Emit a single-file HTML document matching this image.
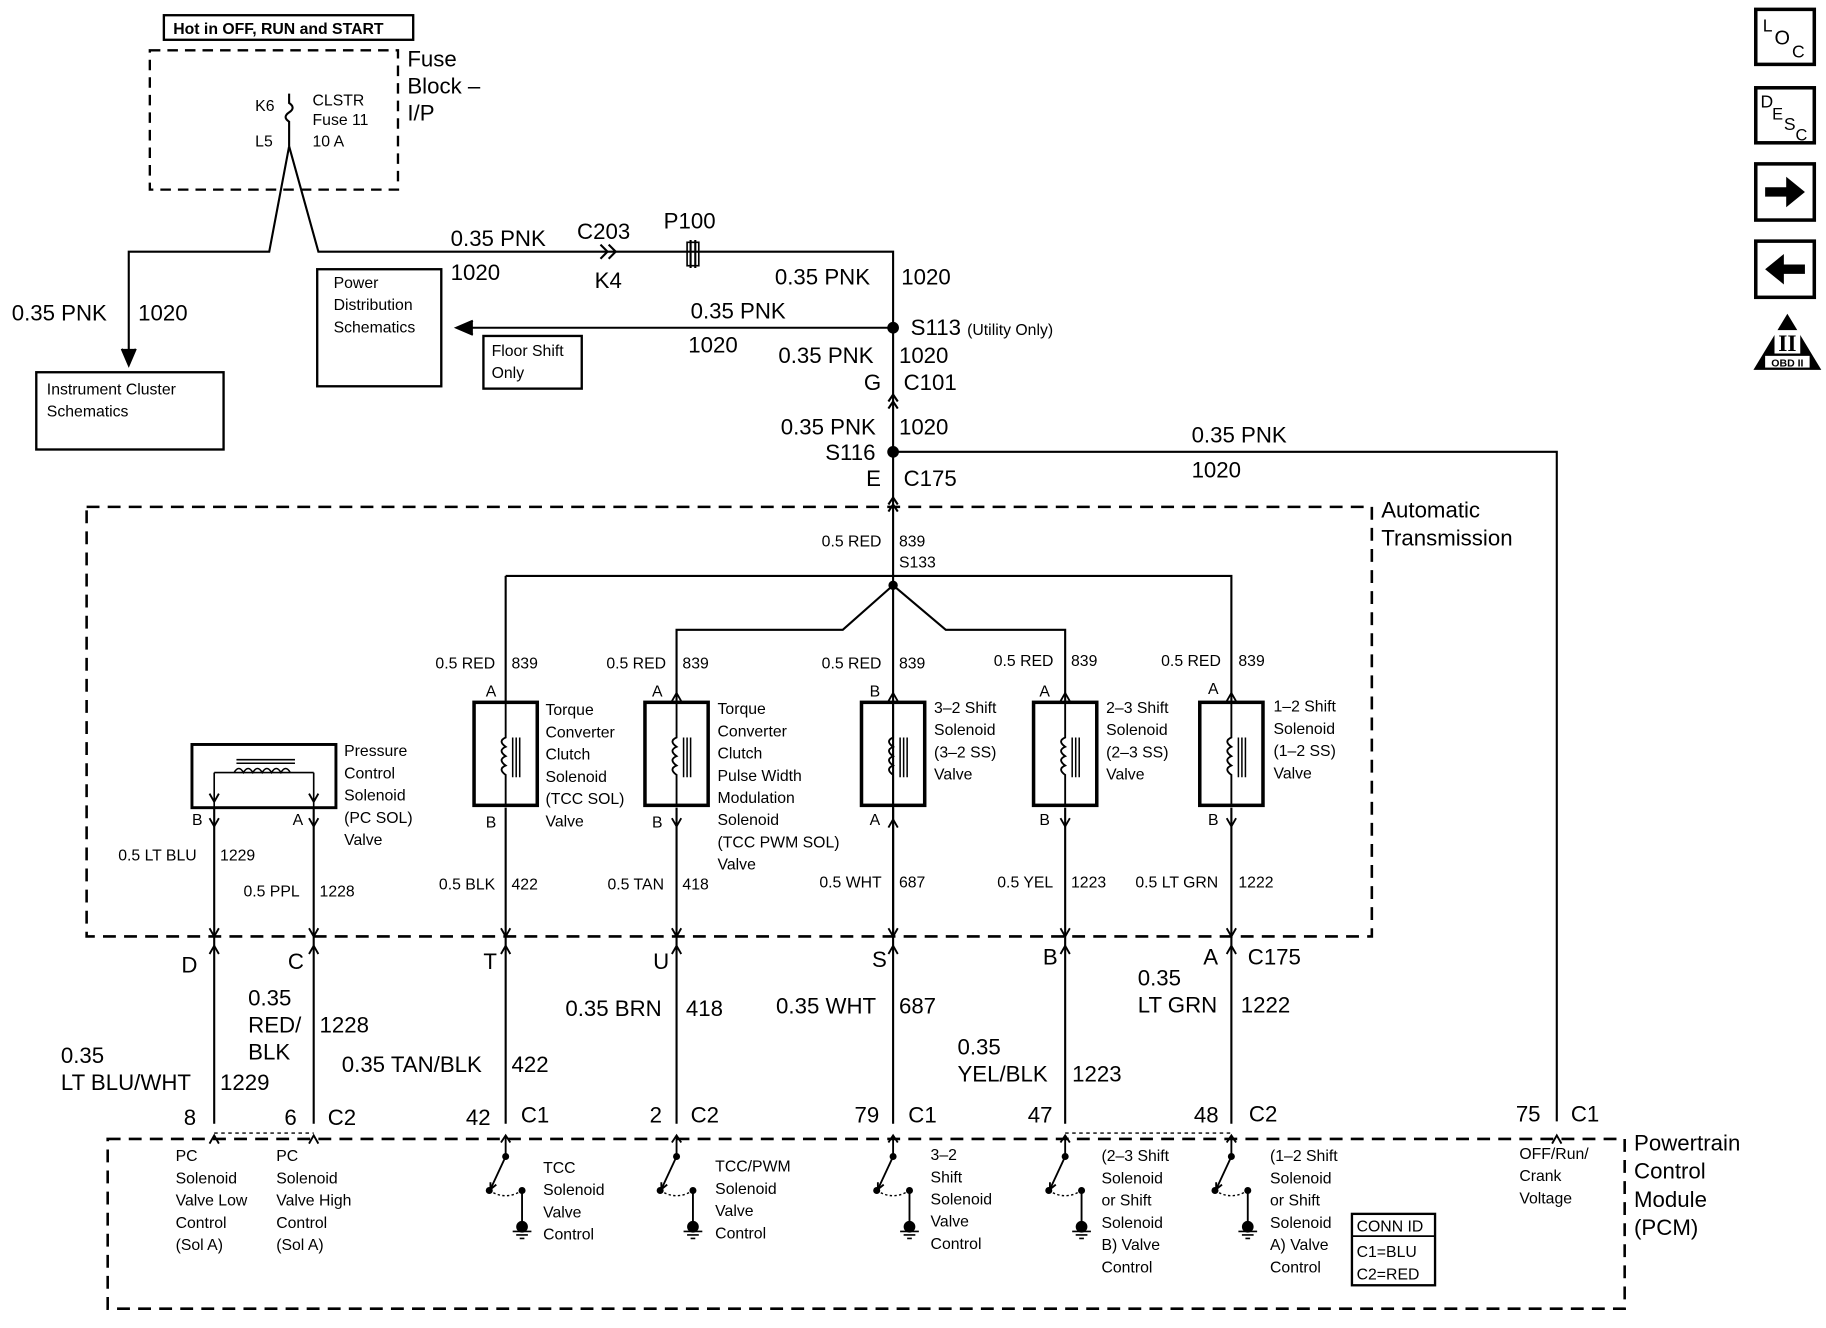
<!DOCTYPE html>
<html><head><meta charset="utf-8"><style>
html,body{margin:0;padding:0;background:#fff}
svg{display:block}
text{font-family:"Liberation Sans",Arial,sans-serif;fill:#000}
.b{font-size:19px}
.s{font-size:14px}
.t{font-size:13.5px}
</style></head><body>
<svg width="1826" height="1328" viewBox="0 0 1560 1134.5" preserveAspectRatio="none" xmlns="http://www.w3.org/2000/svg">
<defs>
<g id="sol">
<rect x="-27" y="0" width="54" height="88" fill="none" stroke="#000" stroke-width="3"/>
<path d="M0,0 V30 q-7,3 0,8 q-7,3 0,8 q-7,3 0,8 q-7,3 0,8 V88" fill="none" stroke="#000" stroke-width="1.6"/>
<path d="M6,30 V64 M9,30 V64 M12,30 V64" stroke="#000" stroke-width="1.3"/>
</g>
<g id="sw">
<path d="M0,0 V18" stroke="#000" stroke-width="1.6"/>
<path d="M-4,6 L0,0 L4,6" fill="none" stroke="#000" stroke-width="1.6"/>
<circle cx="0" cy="18" r="3"/>
<path d="M0,18 L-13,46" stroke="#000" stroke-width="1.6"/>
<path d="M-13,40 L-13,46 L-8,42" fill="none" stroke="#000" stroke-width="1.6"/>
<circle cx="-14" cy="47" r="3"/>
<path d="M-14,47 Q0,56 14,47" fill="none" stroke="#000" stroke-width="1.2" stroke-dasharray="2,2"/>
<circle cx="14" cy="47" r="3"/>
<path d="M14,47 V75" stroke="#000" stroke-width="1.6"/>
<circle cx="14" cy="78" r="5"/>
<path d="M6,82 H22 M9,85 H19 M12,88 H16" stroke="#000" stroke-width="1.4"/>
</g>
<path id="dn" d="M-4,-7 L0,0 L4,-7" fill="none" stroke="#000" stroke-width="1.6"/>
<path id="up" d="M-4,7 L0,0 L4,7" fill="none" stroke="#000" stroke-width="1.6"/>
</defs>
<g stroke="#000" fill="none" stroke-width="1.8">
<!-- fuse block -->
<rect x="140" y="13" width="213" height="21" stroke-width="2"/>
<rect x="128" y="43" width="212" height="119" stroke-dasharray="9,6" stroke-width="2"/>
<path d="M247,80 V88 q6,4 0,8 q-6,4 0,8 V125"/>
<path d="M247,125 L230,215 H110 V305"/>
<path d="M247,125 L272,215 H763 V800"/>
<path d="M104,298 L110,312 L116,298" fill="#000"/>
<path d="M513,209 L519,215 L513,221 M520,209 L526,215 L520,221"/>
<rect x="587" y="207" width="10" height="20" stroke-width="1.4"/>
<path d="M590,205 V229 M594,205 V229"/>
<path d="M763,280 H392"/>
<path d="M404,274 L390,280 L404,286" fill="#000"/>
<rect x="271" y="230" width="106" height="100" stroke-width="2"/>
<rect x="413" y="287" width="84" height="45" stroke-width="2"/>
<rect x="31" y="318" width="160" height="66" stroke-width="2"/>
<path d="M759,343 L763,337 L767,343 M759,349 L763,343 L767,349"/>
<path d="M763,386 H1330 V958"/>
<path d="M759,431 L763,425 L767,431 M759,437 L763,431 L767,437"/>
<!-- auto trans -->
<rect x="74" y="433" width="1098" height="367" stroke-dasharray="11,7" stroke-width="2.2"/>
<path d="M432,492 H1052 V600"/>
<path d="M432,492 V600"/>
<path d="M763,500 L720,538 H578 V600"/>
<path d="M763,500 L808,538 H910 V600"/>
<path d="M432,690 V960 M578,690 V960 M763,690 V960 M910,690 V960 M1052,690 V960"/>
<rect x="164" y="636" width="123" height="54" stroke-width="2.5"/>
<path d="M183,660 V690 M268,660 V690 M183,660 H268" stroke-width="1.4"/>
<path d="M200,660 q4,-7 8,0 q4,-7 8,0 q4,-7 8,0 q4,-7 8,0 q4,-7 8,0 q4,-7 8,0 M202,652 H252 M202,649 H252" stroke-width="1.3"/>
<path d="M183,690 V960 M268,690 V960"/>
<path d="M183,968 H268 M910,968 H1052" stroke-dasharray="3,3" stroke-width="1.2"/>
<!-- PCM -->
<rect x="92" y="973" width="1296" height="145" stroke-dasharray="11,7" stroke-width="2.2"/>
<rect x="1155" y="1037" width="71" height="61" stroke-width="2"/>
<path d="M1155,1056 H1226" stroke-width="1.5"/>
<!-- icons -->
<rect x="1500" y="8" width="50" height="47" stroke-width="3"/>
<rect x="1500" y="75" width="50" height="47" stroke-width="3"/>
<rect x="1500" y="140" width="50" height="48" stroke-width="3"/>
<rect x="1500" y="206" width="50" height="48" stroke-width="3"/>
</g>
<path d="M1508,160 H1526 V151 L1542,164 L1526,177 V168 H1508Z"/>
<path d="M1542,226 H1524 V217 L1508,230 L1524,243 V234 H1542Z"/>
<path d="M1527,268 L1556,316 H1498Z"/>
<rect x="1516" y="282" width="22" height="20" fill="#fff"/>
<text x="1527" y="300" text-anchor="middle" style="font-family:'Liberation Serif';font-size:20px;font-weight:bold">II</text>
<rect x="1508" y="304" width="38" height="10" fill="#fff"/>
<text x="1527" y="313" text-anchor="middle" style="font-size:9px;font-weight:bold">OBD II</text>
<text x="1506" y="27" style="font-size:15px">L</text><text x="1516" y="38" style="font-size:17px">O</text><text x="1531" y="49" style="font-size:15px">C</text>
<text x="1504" y="92" style="font-size:15px">D</text><text x="1514" y="102" style="font-size:14px">E</text><text x="1524" y="111" style="font-size:15px">S</text><text x="1534" y="120" style="font-size:14px">C</text>
<!-- solenoids -->
<use href="#sol" x="432" y="600"/>
<use href="#sol" x="578" y="600"/>
<use href="#sol" x="763" y="600"/>
<use href="#sol" x="910" y="600"/>
<use href="#sol" x="1052" y="600"/>
<use href="#up" x="578" y="592"/><use href="#up" x="763" y="592"/><use href="#up" x="910" y="592"/><use href="#up" x="1052" y="592"/>
<use href="#dn" x="578" y="706"/><use href="#up" x="763" y="700"/><use href="#dn" x="910" y="706"/><use href="#dn" x="1052" y="706"/>
<use href="#dn" x="183" y="706"/><use href="#dn" x="268" y="706"/>
<use href="#dn" x="183" y="685"/><use href="#dn" x="268" y="685"/>
<use href="#dn" x="183" y="800"/><use href="#dn" x="268" y="800"/><use href="#dn" x="432" y="800"/><use href="#dn" x="578" y="800"/><use href="#dn" x="763" y="800"/><use href="#dn" x="910" y="800"/><use href="#dn" x="1052" y="800"/>
<use href="#up" x="183" y="808"/><use href="#up" x="268" y="808"/><use href="#up" x="432" y="808"/><use href="#up" x="578" y="808"/><use href="#up" x="763" y="808"/><use href="#up" x="910" y="808"/><use href="#up" x="1052" y="808"/>
<use href="#sw" x="432" y="970"/><use href="#sw" x="578" y="970"/><use href="#sw" x="763" y="970"/><use href="#sw" x="910" y="970"/><use href="#sw" x="1052" y="970"/>
<use href="#up" x="183" y="970"/><use href="#up" x="268" y="970"/><use href="#up" x="1330" y="970"/>
<circle cx="763" cy="280" r="5"/><circle cx="763" cy="386" r="5"/><circle cx="763" cy="500" r="4"/>
<!-- text -->
<text x="148" y="29" class="t" style="font-weight:bold">Hot in OFF, RUN and START</text>
<text x="348" y="57" class="b">Fuse</text><text x="348" y="80" class="b">Block –</text><text x="348" y="103" class="b">I/P</text>
<text x="218" y="95" class="t">K6</text><text x="218" y="125" class="t">L5</text>
<text x="267" y="90" class="t">CLSTR</text><text x="267" y="107" class="t">Fuse 11</text><text x="267" y="125" class="t">10 A</text>
<text x="385" y="210" class="b">0.35 PNK</text><text x="385" y="239" class="b">1020</text>
<text x="493" y="204" class="b">C203</text><text x="508" y="246" class="b">K4</text><text x="567" y="195" class="b">P100</text>
<text x="662" y="243" class="b">0.35 PNK</text><text x="770" y="243" class="b">1020</text>
<text x="590" y="272" class="b">0.35 PNK</text><text x="588" y="301" class="b">1020</text>
<text x="778" y="286" class="b">S113 <tspan class="t">(Utility Only)</tspan></text>
<text x="285" y="246" class="t">Power</text><text x="285" y="265" class="t">Distribution</text><text x="285" y="284" class="t">Schematics</text>
<text x="420" y="304" class="t">Floor Shift</text><text x="420" y="323" class="t">Only</text>
<text x="40" y="337" class="t">Instrument Cluster</text><text x="40" y="356" class="t">Schematics</text>
<text x="10" y="274" class="b">0.35 PNK</text><text x="118" y="274" class="b">1020</text>
<text x="665" y="310" class="b">0.35 PNK</text><text x="768" y="310" class="b">1020</text>
<text x="738" y="333" class="b">G</text><text x="772" y="333" class="b">C101</text>
<text x="667" y="371" class="b">0.35 PNK</text><text x="768" y="371" class="b">1020</text>
<text x="705" y="393" class="b">S116</text>
<text x="1018" y="378" class="b">0.35 PNK</text><text x="1018" y="408" class="b">1020</text>
<text x="740" y="415" class="b">E</text><text x="772" y="415" class="b">C175</text>
<text x="1180" y="442" class="b">Automatic</text><text x="1180" y="466" class="b">Transmission</text>
<text x="702" y="467" class="t">0.5 RED</text><text x="768" y="467" class="t">839</text><text x="768" y="485" class="t">S133</text>
<g class="t">
<text x="372" y="571">0.5 RED</text><text x="437" y="571">839</text>
<text x="518" y="571">0.5 RED</text><text x="583" y="571">839</text>
<text x="702" y="571">0.5 RED</text><text x="768" y="571">839</text>
<text x="849" y="569">0.5 RED</text><text x="915" y="569">839</text>
<text x="992" y="569">0.5 RED</text><text x="1058" y="569">839</text>
<text x="415" y="595">A</text><text x="557" y="595">A</text><text x="743" y="595">B</text><text x="888" y="595">A</text><text x="1032" y="593">A</text>
<text x="415" y="707">B</text><text x="557" y="707">B</text><text x="743" y="705">A</text><text x="888" y="705">B</text><text x="1032" y="705">B</text>
<text x="164" y="705">B</text><text x="250" y="705">A</text>
<text x="466" y="611">Torque</text><text x="466" y="630">Converter</text><text x="466" y="649">Clutch</text><text x="466" y="668">Solenoid</text><text x="466" y="687">(TCC SOL)</text><text x="466" y="706">Valve</text>
<text x="613" y="610">Torque</text><text x="613" y="629">Converter</text><text x="613" y="648">Clutch</text><text x="613" y="667">Pulse Width</text><text x="613" y="686">Modulation</text><text x="613" y="705">Solenoid</text><text x="613" y="724">(TCC PWM SOL)</text><text x="613" y="743">Valve</text>
<text x="798" y="609">3–2 Shift</text><text x="798" y="628">Solenoid</text><text x="798" y="647">(3–2 SS)</text><text x="798" y="666">Valve</text>
<text x="945" y="609">2–3 Shift</text><text x="945" y="628">Solenoid</text><text x="945" y="647">(2–3 SS)</text><text x="945" y="666">Valve</text>
<text x="1088" y="608">1–2 Shift</text><text x="1088" y="627">Solenoid</text><text x="1088" y="646">(1–2 SS)</text><text x="1088" y="665">Valve</text>
<text x="294" y="646">Pressure</text><text x="294" y="665">Control</text><text x="294" y="684">Solenoid</text><text x="294" y="703">(PC SOL)</text><text x="294" y="722">Valve</text>
<text x="101" y="735">0.5 LT BLU</text><text x="188" y="735">1229</text>
<text x="208" y="766">0.5 PPL</text><text x="273" y="766">1228</text>
<text x="375" y="760">0.5 BLK</text><text x="437" y="760">422</text>
<text x="519" y="760">0.5 TAN</text><text x="583" y="760">418</text>
<text x="700" y="758">0.5 WHT</text><text x="768" y="758">687</text>
<text x="852" y="758">0.5 YEL</text><text x="915" y="758">1223</text>
<text x="970" y="758">0.5 LT GRN</text><text x="1058" y="758">1222</text>
</g>
<g class="b">
<text x="155" y="831">D</text><text x="246" y="828">C</text><text x="413" y="828">T</text><text x="558" y="828">U</text><text x="745" y="826">S</text><text x="891" y="824">B</text><text x="1028" y="824">A</text><text x="1066" y="824">C175</text>
<text x="52" y="908">0.35</text><text x="52" y="931">LT BLU/WHT</text><text x="188" y="931">1229</text>
<text x="212" y="859">0.35</text><text x="212" y="882">RED/</text><text x="212" y="905">BLK</text><text x="273" y="882">1228</text>
<text x="292" y="916">0.35 TAN/BLK</text><text x="437" y="916">422</text>
<text x="483" y="868">0.35 BRN</text><text x="586" y="868">418</text>
<text x="663" y="866">0.35 WHT</text><text x="768" y="866">687</text>
<text x="818" y="901">0.35</text><text x="818" y="924">YEL/BLK</text><text x="916" y="924">1223</text>
<text x="972" y="842">0.35</text><text x="972" y="865">LT GRN</text><text x="1060" y="865">1222</text>
<text x="157" y="961">8</text><text x="243" y="961">6</text><text x="280" y="961">C2</text>
<text x="398" y="961">42</text><text x="445" y="959">C1</text>
<text x="555" y="959">2</text><text x="590" y="959">C2</text>
<text x="730" y="959">79</text><text x="776" y="959">C1</text>
<text x="878" y="959">47</text>
<text x="1020" y="959">48</text><text x="1067" y="958">C2</text>
<text x="1295" y="958">75</text><text x="1342" y="958">C1</text>
<text x="1396" y="983">Powertrain</text><text x="1396" y="1007">Control</text><text x="1396" y="1031">Module</text><text x="1396" y="1055">(PCM)</text>
</g>
<g class="t">
<text x="150" y="992">PC</text><text x="150" y="1011">Solenoid</text><text x="150" y="1030">Valve Low</text><text x="150" y="1049">Control</text><text x="150" y="1068">(Sol A)</text>
<text x="236" y="992">PC</text><text x="236" y="1011">Solenoid</text><text x="236" y="1030">Valve High</text><text x="236" y="1049">Control</text><text x="236" y="1068">(Sol A)</text>
<text x="464" y="1002">TCC</text><text x="464" y="1021">Solenoid</text><text x="464" y="1040">Valve</text><text x="464" y="1059">Control</text>
<text x="611" y="1001">TCC/PWM</text><text x="611" y="1020">Solenoid</text><text x="611" y="1039">Valve</text><text x="611" y="1058">Control</text>
<text x="795" y="991">3–2</text><text x="795" y="1010">Shift</text><text x="795" y="1029">Solenoid</text><text x="795" y="1048">Valve</text><text x="795" y="1067">Control</text>
<text x="941" y="992">(2–3 Shift</text><text x="941" y="1011">Solenoid</text><text x="941" y="1030">or Shift</text><text x="941" y="1049">Solenoid</text><text x="941" y="1068">B) Valve</text><text x="941" y="1087">Control</text>
<text x="1085" y="992">(1–2 Shift</text><text x="1085" y="1011">Solenoid</text><text x="1085" y="1030">or Shift</text><text x="1085" y="1049">Solenoid</text><text x="1085" y="1068">A) Valve</text><text x="1085" y="1087">Control</text>
<text x="1298" y="990">OFF/Run/</text><text x="1298" y="1009">Crank</text><text x="1298" y="1028">Voltage</text>
<text x="1159" y="1052">CONN ID</text><text x="1159" y="1074">C1=BLU</text><text x="1159" y="1093">C2=RED</text>
</g>
</svg>
</body></html>
